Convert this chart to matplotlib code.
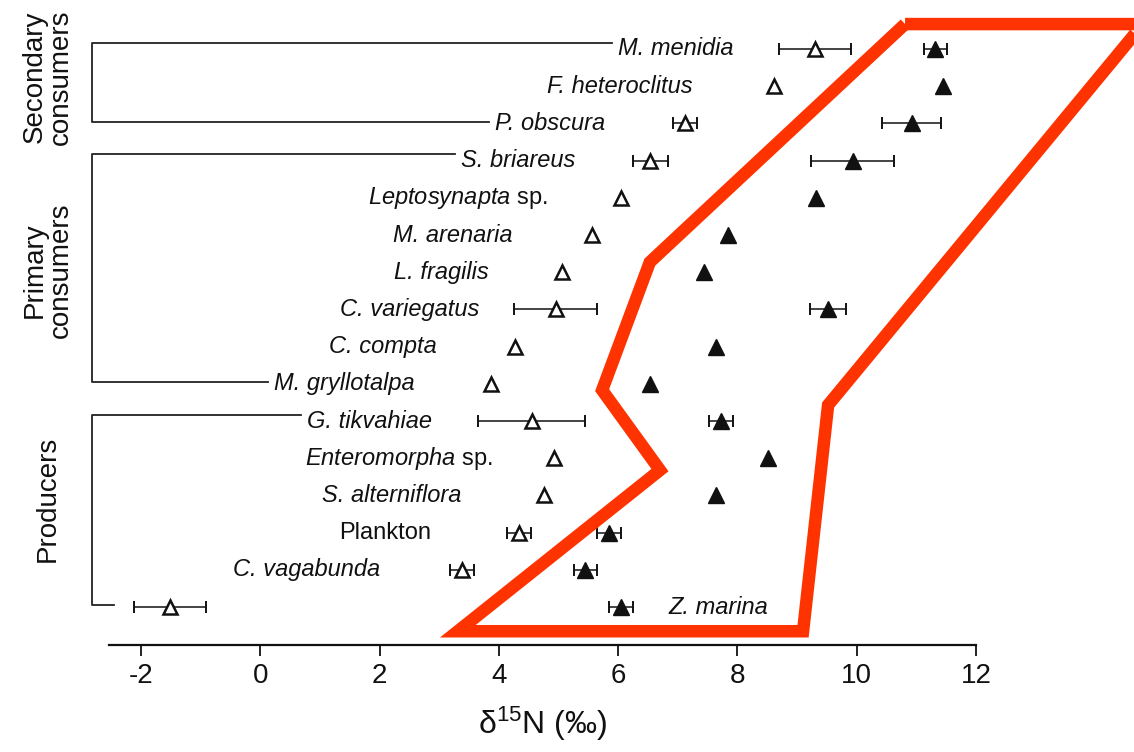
import matplotlib
matplotlib.use("Agg")
import matplotlib.pyplot as plt
from matplotlib import font_manager
from matplotlib.patches import Polygon
import numpy as np

# ---- data -------------------------------------------------------------
species = ["M. menidia", "F. heteroclitus", "P. obscura", "S. briareus",
           "$\\mathit{Leptosynapta}$ sp.", "M. arenaria", "L. fragilis",
           "C. variegatus", "C. compta", "M. gryllotalpa", "G. tikvahiae",
           "$\\mathit{Enteromorpha}$ sp.", "S. alterniflora", "Plankton",
           "C. vagabunda", "Z. marina"]
italic_label = [True, True, True, True, False, True, True, True, True, True,
                True, False, True, False, True, True]

# open triangles
open_mean = [9.3, 8.62, 7.12, 6.54, 6.04, 5.56, 5.06, 4.95, 4.27, 3.87,
             4.55, 4.93, 4.76, 4.33, 3.38, -1.52]
open_err = [0.6, 0, 0.2, 0.3, 0, 0, 0, 0.7, 0, 0, 0.9, 0, 0, 0.2, 0.2, 0.6]

# filled triangles
filled_mean = [11.32, 11.45, 10.92, 9.93, 9.32, 7.84, 7.44, 9.52, 7.64, 6.54,
               7.72, 8.52, 7.64, 5.85, 5.45, 6.05]
filled_err = [0.2, 0, 0.5, 0.7, 0, 0, 0, 0.3, 0, 0, 0.2, 0, 0, 0.2, 0.2, 0.2]

groups = ["Secondary\nconsumers", "Primary\nconsumers", "Producers"]
group_first = [0, 3, 10]
group_last = [2, 9, 15]

x_ticks = [-2, 0, 2, 4, 6, 8, 10, 12]

# ---- layout -----------------------------------------------------------
label_x = [7.93, 7.25, 5.78, 5.28, 4.81, 4.22, 3.83, 3.67, 2.96, 2.59,
           2.88, 3.90, 3.37, 2.86, 2.01, 6.84]
label_ha = ["right"] * 15 + ["left"]
group_label_y = [0.75, 5.95, 12.1]
bracket_x = -2.82
group_label_x = -3.56

highlight_x = [10.81, 14.80, 9.52, 9.10, 3.31, 6.70, 5.73, 6.53]
highlight_y = [-0.67, -0.67, 9.57, 15.65, 15.65, 11.32, 9.17, 5.73]

# ---- fonts ------------------------------------------------------------
installed = {f.name for f in font_manager.fontManager.ttflist}
sans = "Liberation Sans"
narrow = "Liberation Sans Narrow" if "Liberation Sans Narrow" in installed else sans
plt.rcParams["font.family"] = [sans, "DejaVu Sans"]
plt.rcParams["mathtext.fontset"] = "custom"
plt.rcParams["mathtext.it"] = sans + ":italic"
plt.rcParams["mathtext.rm"] = narrow

ink = "#111111"

fig = plt.figure(figsize=(11.34, 7.52), dpi=100)
ax = fig.add_axes([109 / 1134, 107 / 752, 867 / 1134, 645 / 752])
ax.set_xlim(-2.54, 12)
ax.set_ylim(16.02, -1.317)

for side in ("left", "right", "top"):
    ax.spines[side].set_visible(False)
ax.spines["bottom"].set_linewidth(1.6)
ax.spines["bottom"].set_color(ink)
ax.set_yticks([])
ax.set_xticks(x_ticks)
ax.set_xticklabels([str(t) for t in x_ticks], fontfamily=narrow, fontsize=20)
ax.tick_params(axis="x", direction="out", length=8, width=1.3, color=ink,
               pad=5, labelcolor=ink)
ax.set_xlabel("δ$^{\\mathregular{15}}$N (‰)", fontfamily=narrow, fontsize=23,
              labelpad=11, color=ink)

rows = np.arange(len(species))
open_mean = np.array(open_mean)
filled_mean = np.array(filled_mean)
open_err = np.array(open_err)
filled_err = np.array(filled_err)

# error bars (only where a spread was reported)
for mean, err in ((open_mean, open_err), (filled_mean, filled_err)):
    m = err > 0
    ax.errorbar(mean[m], rows[m], xerr=err[m], fmt="none", ecolor=ink,
                elinewidth=1.1, capsize=4, capthick=1.4, zorder=2)

ax.plot(open_mean, rows, linestyle="none", marker="^", markersize=10,
        markerfacecolor="white", markeredgecolor=ink, markeredgewidth=1.8,
        zorder=3, clip_on=False)
ax.plot(filled_mean, rows, linestyle="none", marker="^", markersize=11,
        color=ink, zorder=3, clip_on=False)

# species labels
texts = []
for i, name in enumerate(species):
    t = ax.text(label_x[i], rows[i], name, ha=label_ha[i], va="center",
                fontsize=17, color=ink,
                fontstyle="italic" if italic_label[i] else "normal")
    texts.append(t)

# group brackets
fig.canvas.draw()
renderer = fig.canvas.get_renderer()
inv = ax.transData.inverted()


def left_end(i):
    if label_ha[i] == "right":
        bb = texts[i].get_window_extent(renderer)
        return inv.transform((bb.x0 - 6, 0))[0]
    return open_mean[i] - open_err[i] - 0.33


for g, name in enumerate(groups):
    a, b = group_first[g], group_last[g]
    y_top = rows[a] - 0.17
    y_bot = rows[b] - 0.05
    ax.plot([left_end(a), bracket_x, bracket_x, left_end(b)],
            [y_top, y_top, y_bot, y_bot], color="#222222", lw=1.3,
            clip_on=False, zorder=1)
    ax.text(group_label_x, group_label_y[g], name, rotation=90, ha="center",
            va="center", fontsize=20, color=ink, linespacing=1.0,
            multialignment="center")

# highlighted band
band = Polygon(np.column_stack([highlight_x, highlight_y]), closed=True,
               fill=False, edgecolor="#FF3300", linewidth=9,
               joinstyle="miter", clip_on=False, zorder=5)
ax.add_patch(band)

fig.savefig("out.png", dpi=100)
